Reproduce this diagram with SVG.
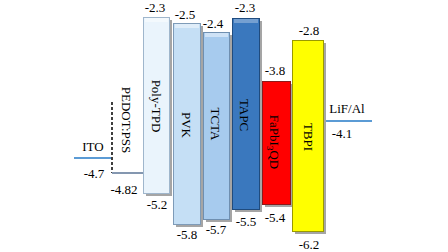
<svg xmlns="http://www.w3.org/2000/svg" width="448" height="252" viewBox="0 0 448 252" font-family="'Liberation Serif', 'DejaVu Serif', serif">
<style>
text{font-family:'Liberation Serif','DejaVu Serif',serif;font-size:13px;fill:#000}
.lbl{text-anchor:middle}
.sh{fill:#7f7f7f;opacity:0.7}
.bev{fill:#fff;opacity:0.45}
</style>
<rect width="448" height="252" fill="#fff"/>
<g id="connectors">
<line x1="74" y1="158" x2="111" y2="158" stroke="#5b9bd5" stroke-width="2"/>
<line x1="112" y1="102" x2="112" y2="173" stroke="#000" stroke-width="1.5" stroke-dasharray="3,2"/>
<line x1="112" y1="173" x2="143" y2="173" stroke="#8497b0" stroke-width="2"/>
<line x1="326" y1="121" x2="372" y2="121" stroke="#5b9bd5" stroke-width="2"/>
</g>
<g id="ITO"><text x="93" y="151" class="lbl">ITO</text><text x="94" y="178" class="lbl">-4.7</text></g>
<g id="PEDOT"><text transform="translate(127,120) rotate(90)" dy="0.35em" class="lbl">PEDOT:PSS</text><text x="124" y="194" class="lbl">-4.82</text></g>
<g id="PolyTPD">
<rect x="146" y="20" width="26" height="176" class="sh"/>
<rect x="143.5" y="17.5" width="26" height="176" fill="#eaf4fc" stroke="#9fb6cc"/>
<rect x="145" y="18" width="23" height="4" class="bev"/>
<text transform="translate(157,106) rotate(90)" dy="0.35em" class="lbl">Poly-TPD</text>
<text x="155" y="12" class="lbl">-2.3</text><text x="157" y="209" class="lbl">-5.2</text>
</g>
<g id="PVK">
<rect x="176" y="26" width="27" height="201" class="sh"/>
<rect x="173.5" y="23.5" width="27" height="201" fill="#c5dff5" stroke="#7e9bb8"/>
<rect x="175" y="24" width="24" height="4" class="bev"/>
<text transform="translate(187,125) rotate(90)" dy="0.35em" class="lbl">PVK</text>
<text x="185" y="19" class="lbl">-2.5</text><text x="187" y="239" class="lbl">-5.8</text>
</g>
<g id="TCTA">
<rect x="206" y="35" width="26" height="187" class="sh"/>
<rect x="203.5" y="32.5" width="26" height="187" fill="#a7cbee" stroke="#6f8fb0"/>
<rect x="205" y="33" width="23" height="4" class="bev"/>
<text transform="translate(216,124) rotate(90)" dy="0.35em" class="lbl">TCTA</text>
<text x="213" y="28" class="lbl">-2.4</text><text x="216" y="234" class="lbl">-5.7</text>
</g>
<g id="TAPC">
<rect x="235" y="21" width="27" height="191" class="sh"/>
<rect x="232.5" y="18.5" width="27" height="191" fill="#3a78be" stroke="#1f4b7e"/>
<rect x="234" y="19" width="24" height="4" fill="#fff" opacity="0.3"/>
<text transform="translate(245,115) rotate(90)" dy="0.35em" class="lbl">TAPC</text>
<text x="245" y="12" class="lbl">-2.3</text><text x="246" y="226" class="lbl">-5.5</text>
</g>
<g id="FaPbI3QD">
<rect x="265" y="84" width="28" height="123" class="sh"/>
<rect x="262.5" y="81.5" width="28" height="123" fill="#ff0000" stroke="#8b1a1a"/>
<text transform="translate(275,142) rotate(90)" dy="0.35em" class="lbl">FaPbI<tspan font-size="9" dy="3">3</tspan><tspan dy="-3">QD</tspan></text>
<text x="275" y="75" class="lbl">-3.8</text><text x="275" y="222" class="lbl">-5.4</text>
</g>
<g id="TBPI">
<rect x="295" y="43" width="31" height="191" class="sh"/>
<rect x="292.5" y="40.5" width="31" height="191" fill="#ffff00" stroke="#9a9a00"/>
<text transform="translate(309,137) rotate(90)" dy="0.35em" class="lbl">TBPI</text>
<text x="309" y="35" class="lbl">-2.8</text><text x="309" y="249" class="lbl">-6.2</text>
</g>
<g id="LiFAl"><text x="347" y="113" class="lbl">LiF/Al</text><text x="342" y="138" class="lbl">-4.1</text></g>
</svg>
